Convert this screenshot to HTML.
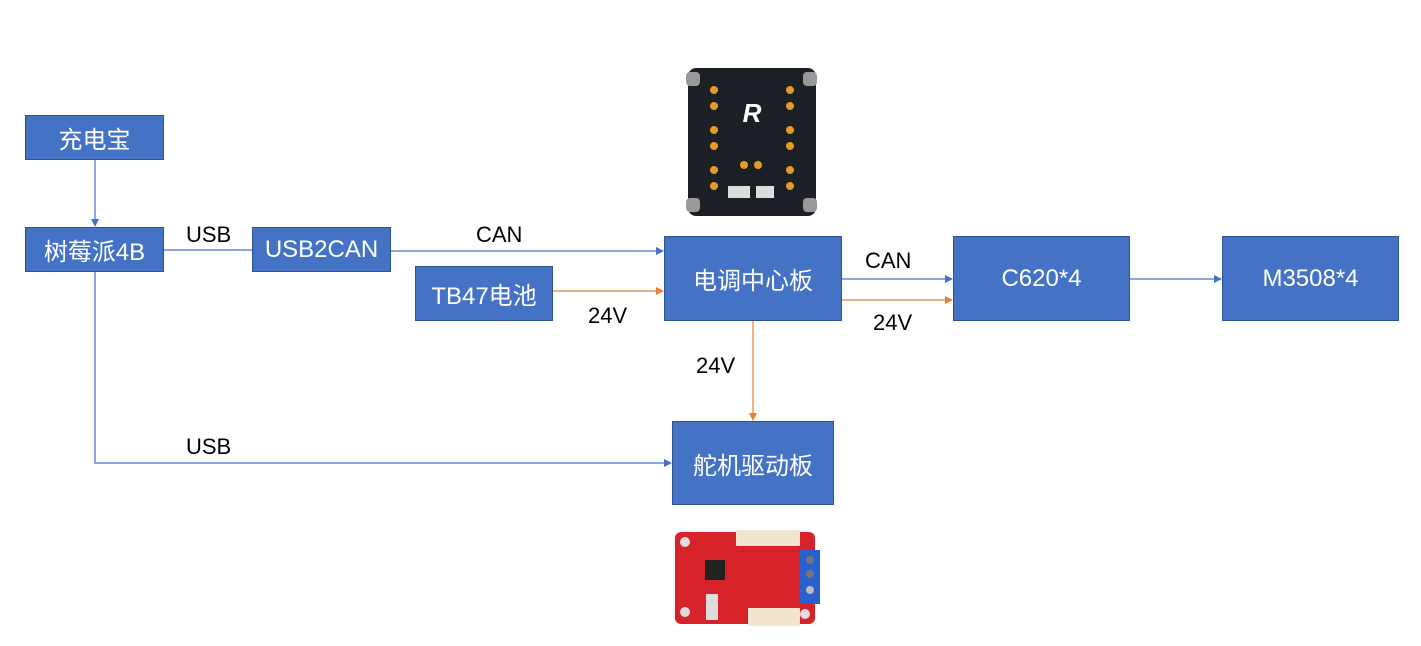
<!DOCTYPE html>
<html><head><meta charset="utf-8"><style>
body{margin:0;width:1421px;height:646px;background:#fff;position:relative;overflow:hidden;font-family:"Liberation Sans","Noto Sans CJK SC",sans-serif}
.b{position:absolute;background:#4472C4;border:1.5px solid #2F528F;box-sizing:border-box;color:#fff;font-size:24px;display:flex;align-items:center;justify-content:center}
.l{position:absolute;font-size:22px;color:#000}
</style></head><body>
<svg width="1421" height="646" style="position:absolute;left:0;top:0">
<defs>
<marker id="ab" markerWidth="8" markerHeight="8" refX="7" refY="4" orient="auto" markerUnits="userSpaceOnUse"><path d="M0,0 L8,4 L0,8z" fill="#4472C4"/></marker>
<marker id="ao" markerWidth="8" markerHeight="8" refX="7" refY="4" orient="auto" markerUnits="userSpaceOnUse"><path d="M0,0 L8,4 L0,8z" fill="#ED7D31"/></marker>
</defs>
<g stroke-width="1.2" fill="none">
<path d="M95,160 V226" stroke="#4472C4" marker-end="url(#ab)"/>
<path d="M164,250 H252" stroke="#4472C4"/>
<path d="M391,251 H663" stroke="#4472C4" marker-end="url(#ab)"/>
<path d="M553,291 H663" stroke="#ED7D31" marker-end="url(#ao)"/>
<path d="M842,279 H952" stroke="#4472C4" marker-end="url(#ab)"/>
<path d="M842,300 H952" stroke="#ED7D31" marker-end="url(#ao)"/>
<path d="M1130,279 H1221" stroke="#4472C4" marker-end="url(#ab)"/>
<path d="M753,321 V420" stroke="#ED7D31" marker-end="url(#ao)"/>
<path d="M95,272 V463 H671" stroke="#4472C4" marker-end="url(#ab)"/>
</g>
<!-- ESC hub image -->
<rect x="688" y="68" width="128" height="148" rx="8" fill="#1c1f26"/>
<rect x="686" y="72" width="14" height="14" rx="4" fill="#999"/><rect x="803" y="72" width="14" height="14" rx="4" fill="#999"/>
<rect x="686" y="198" width="14" height="14" rx="4" fill="#999"/><rect x="803" y="198" width="14" height="14" rx="4" fill="#999"/>
<g fill="#e69a2a">
<circle cx="714" cy="90" r="4"/><circle cx="714" cy="106" r="4"/><circle cx="714" cy="130" r="4"/><circle cx="714" cy="146" r="4"/><circle cx="714" cy="170" r="4"/><circle cx="714" cy="186" r="4"/>
<circle cx="790" cy="90" r="4"/><circle cx="790" cy="106" r="4"/><circle cx="790" cy="130" r="4"/><circle cx="790" cy="146" r="4"/><circle cx="790" cy="170" r="4"/><circle cx="790" cy="186" r="4"/>
<circle cx="744" cy="165" r="4"/><circle cx="758" cy="165" r="4"/></g>
<text x="752" y="122" fill="#fff" font-size="26" font-weight="bold" text-anchor="middle" font-style="italic">R</text>
<rect x="728" y="186" width="22" height="12" fill="#ddd"/><rect x="756" y="186" width="18" height="12" fill="#ddd"/>
<!-- servo board image -->
<rect x="675" y="532" width="140" height="92" rx="6" fill="#d8222a"/>
<rect x="736" y="530" width="64" height="16" fill="#f2e6cf"/>
<rect x="748" y="608" width="52" height="18" fill="#f2e6cf"/>
<rect x="800" y="550" width="20" height="54" fill="#2a5fd0"/>
<circle cx="810" cy="560" r="4" fill="#777"/><circle cx="810" cy="574" r="4" fill="#777"/><circle cx="810" cy="590" r="4" fill="#bbb"/>
<rect x="706" y="594" width="12" height="26" fill="#ddd"/>
<rect x="705" y="560" width="20" height="20" fill="#222"/>
<circle cx="685" cy="542" r="5" fill="#ddd"/><circle cx="685" cy="612" r="5" fill="#ddd"/><circle cx="805" cy="614" r="5" fill="#ddd"/>
</svg>
<div class="b" style="left:25px;top:115px;width:139px;height:45px">充电宝</div>
<div class="b" style="left:25px;top:227px;width:139px;height:45px">树莓派4B</div>
<div class="b" style="left:252px;top:227px;width:139px;height:45px">USB2CAN</div>
<div class="b" style="left:415px;top:266px;width:138px;height:55px">TB47电池</div>
<div class="b" style="left:664px;top:236px;width:178px;height:85px">电调中心板</div>
<div class="b" style="left:953px;top:236px;width:177px;height:85px">C620*4</div>
<div class="b" style="left:1222px;top:236px;width:177px;height:85px">M3508*4</div>
<div class="b" style="left:672px;top:421px;width:162px;height:84px">舵机驱动板</div>
<div class="l" style="left:186px;top:222px">USB</div>
<div class="l" style="left:476px;top:222px">CAN</div>
<div class="l" style="left:588px;top:303px">24V</div>
<div class="l" style="left:865px;top:248px">CAN</div>
<div class="l" style="left:873px;top:310px">24V</div>
<div class="l" style="left:696px;top:353px">24V</div>
<div class="l" style="left:186px;top:434px">USB</div>
</body></html>
